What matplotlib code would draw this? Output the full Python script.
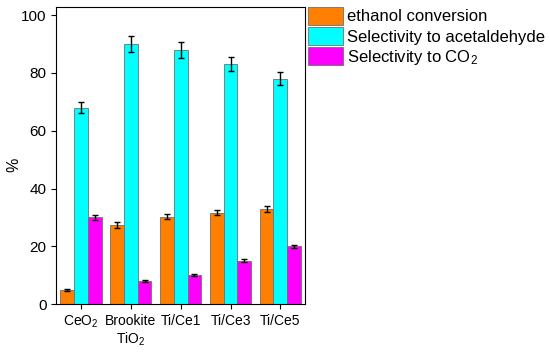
import matplotlib.pyplot as plt
import numpy as np

plt.rcParams['font.family'] = ['Liberation Sans', 'DejaVu Sans']
plt.rcParams['mathtext.fontset'] = 'custom'
plt.rcParams['mathtext.rm'] = 'Liberation Sans'
plt.rcParams['mathtext.it'] = 'Liberation Sans'

catalysts = ["CeO$_2$", "Brookite\nTiO$_2$", "Ti/Ce1", "Ti/Ce3", "Ti/Ce5"]
conversion = [5, 27.5, 30.3, 31.7, 33]
conversion_err = [0.3, 1.0, 1.0, 1.0, 1.0]
acetaldehyde = [68, 90, 88, 83, 78]
acetaldehyde_err = [2.0, 2.7, 2.7, 2.5, 2.3]
co2 = [30, 8, 10, 15, 20]
co2_err = [1.0, 0.3, 0.3, 0.5, 0.6]

labels = ["ethanol conversion", "Selectivity to acetaldehyde", "Selectivity to CO$_2$"]
colors = ["#FF8000", "#00FFFF", "#FF00FF"]

fig = plt.figure(figsize=(5.5, 3.52), dpi=100)
ax = fig.add_axes([0.102, 0.136, 0.453, 0.844])

x = np.arange(len(catalysts))
w = 0.275
series = [(conversion, conversion_err), (acetaldehyde, acetaldehyde_err), (co2, co2_err)]
for i, (vals, errs) in enumerate(series):
    ax.bar(x + (i - 1) * w, vals, w, yerr=errs, color=colors[i], edgecolor="#707070",
           linewidth=0.6, label=labels[i],
           error_kw=dict(ecolor="black", elinewidth=1.0, capsize=2.5, capthick=1.0))

ax.set_xlim(-0.5, 4.5)
ax.set_ylim(0, 102.8)
ax.set_yticks([0, 20, 40, 60, 80, 100])
ax.set_xticks(x)
ax.set_xticklabels(catalysts)
ax.tick_params(axis="y", labelsize=11, direction="out", length=3.5)
ax.tick_params(axis="x", labelsize=10, direction="out", length=3.5)
ax.set_ylabel("%", fontsize=11.5)
ax.yaxis.set_label_coords(-0.14, 0.47)

fig.legend(loc="upper left", bbox_to_anchor=(0.56, 0.98), frameon=False,
           fontsize=12, handlelength=2.1, handleheight=1.25, handletextpad=0.25,
           labelspacing=0.15, borderaxespad=0.0, borderpad=0.0)

fig.savefig("out.png", dpi=100)
